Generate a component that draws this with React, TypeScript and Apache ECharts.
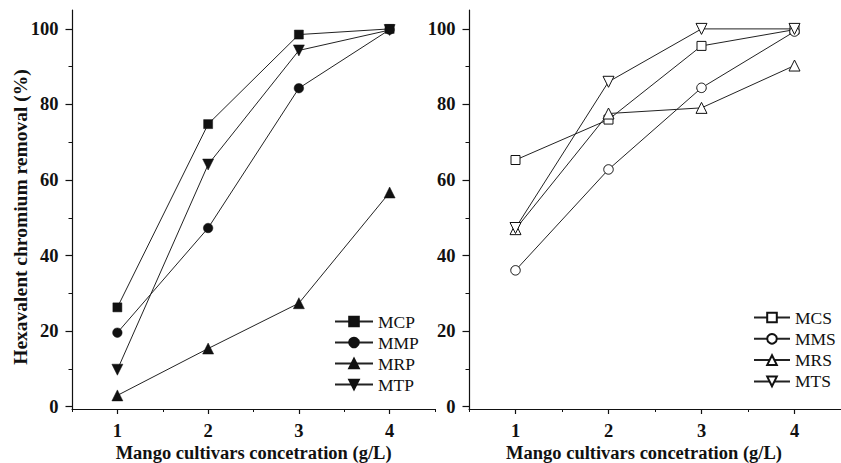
import React, { useEffect, useRef } from "react";
import * as echarts from "echarts";

const concentrations = [1, 2, 3, 4];
const xLabelValues = [1, 2, 3, 4];
const xMinorValues = [0.5, 1.5, 2.5, 3.5, 4.5];
const yLabelValues = [0, 20, 40, 60, 80, 100];
const yMinorValues = [10, 30, 50, 70, 90];

const leftNames = ["MCP", "MMP", "MRP", "MTP"];
const mcp = [26.3, 74.8, 98.5, 100];
const mmp = [19.6, 47.3, 84.3, 99.8];
const mrp = [3.0, 15.4, 27.4, 56.7];
const mtp = [9.8, 64.1, 94.3, 99.7];

const rightNames = ["MCS", "MMS", "MRS", "MTS"];
const mcs = [65.3, 76.0, 95.5, 99.8];
const mms = [36.1, 62.8, 84.4, 99.3];
const mrs = [47.0, 77.6, 79.1, 90.3];
const mts = [47.3, 86.0, 100, 100];

const xTitle = "Mango cultivars concetration (g/L)";
const yTitle = "Hexavalent chromium removal (%)";

const FONT = "'Liberation Serif', 'Times New Roman', serif";
const INK = "#111";

const symbols = ["rect", "circle", "triangle", "triangle"];
const rotations = [0, 0, 0, 180];
const sizes = [9, 9.5, 11, 11];

function pairs(vals: number[]) {
  return concentrations.map((c, i) => [c, vals[i]]);
}

export default function App() {
  const ref = useRef<HTMLDivElement>(null);
  useEffect(() => {
    if (!ref.current) return;
    const chart = echarts.init(ref.current, undefined, { renderer: "svg" });

    const mainX = (gridIndex: number) => ({
      type: "value",
      gridIndex,
      min: 0.5,
      max: 4.5,
      position: "bottom",
      axisLine: { show: true, onZero: false, lineStyle: { color: INK, width: 1.2 } },
      axisTick: { show: true, customValues: xLabelValues, length: 5, lineStyle: { color: INK, width: 1.2 } },
      axisLabel: {
        show: true,
        customValues: xLabelValues,
        margin: 12,
        color: INK,
        fontFamily: FONT,
        fontWeight: "bold",
        fontSize: 18.5,
      },
      splitLine: { show: false },
    });
    const minorX = (gridIndex: number) => ({
      type: "value",
      gridIndex,
      min: 0.5,
      max: 4.5,
      position: "bottom",
      axisLine: { show: false, onZero: false },
      axisTick: { show: true, customValues: xMinorValues, length: 3, lineStyle: { color: INK, width: 1 } },
      axisLabel: { show: false },
      splitLine: { show: false },
    });
    const mainY = (gridIndex: number) => ({
      type: "value",
      gridIndex,
      min: -0.6,
      max: 105,
      position: "left",
      axisLine: { show: true, onZero: false, lineStyle: { color: INK, width: 1.2 } },
      axisTick: { show: true, customValues: yLabelValues, length: 6.5, lineStyle: { color: INK, width: 1.2 } },
      axisLabel: {
        show: true,
        customValues: yLabelValues,
        margin: 13.5,
        color: INK,
        fontFamily: FONT,
        fontWeight: "bold",
        fontSize: 18.5,
      },
      splitLine: { show: false },
    });
    const minorY = (gridIndex: number) => ({
      type: "value",
      gridIndex,
      min: -0.6,
      max: 105,
      position: "left",
      axisLine: { show: false, onZero: false },
      axisTick: { show: true, customValues: yMinorValues, length: 3.5, lineStyle: { color: INK, width: 1 } },
      axisLabel: { show: false },
      splitLine: { show: false },
    });

    const makeSeries = (names: string[], data: number[][], axisIdx: number, filled: boolean) =>
      names.map((name, i) => ({
        name,
        type: "line",
        xAxisIndex: axisIdx,
        yAxisIndex: axisIdx,
        data: pairs(data[i]),
        symbol: symbols[i],
        symbolRotate: rotations[i],
        symbolSize: sizes[i],
        showAllSymbol: true,
        lineStyle: { color: "#222", width: 1 },
        itemStyle: filled
          ? { color: INK, borderColor: INK, borderWidth: 0.5 }
          : { color: "#fff", borderColor: INK, borderWidth: 1 },
        emphasis: { disabled: true },
        z: 3,
      }));

    const legendBase = {
      orient: "vertical",
      padding: 0,
      itemHeight: 12,
      textStyle: { color: INK, fontFamily: FONT, fontSize: 17.5, fontWeight: "normal" },
      selectedMode: false,
    };

    const option: any = {
      animation: false,
      backgroundColor: "#fff",
      grid: [
        { left: 72, right: 406, top: 10, bottom: 54, containLabel: false },
        { left: 469, right: 0, top: 10, bottom: 54, containLabel: false },
      ],
      xAxis: [mainX(0), mainX(1), minorX(0), minorX(1)],
      yAxis: [mainY(0), mainY(1), minorY(0), minorY(1)],
      legend: [
        { ...legendBase, data: leftNames, left: 334, top: 312.5, itemWidth: 38, itemGap: 3 },
        { ...legendBase, data: rightNames, left: 753, top: 308.5, itemWidth: 36, itemGap: 3.3 },
      ],
      series: [
        ...makeSeries(leftNames, [mcp, mmp, mrp, mtp], 0, true),
        ...makeSeries(rightNames, [mcs, mms, mrs, mts], 1, false),
      ],
      graphic: [
        {
          type: "text",
          x: 20,
          y: 217,
          rotation: Math.PI / 2,
          style: {
            text: yTitle,
            fontFamily: FONT,
            fontWeight: "bold",
            fontSize: 19.5,
            fill: INK,
            align: "center",
            verticalAlign: "middle",
          },
        },
        {
          type: "text",
          x: 253.6,
          y: 452.7,
          style: {
            text: xTitle,
            fontFamily: FONT,
            fontWeight: "bold",
            fontSize: 18.5,
            fill: INK,
            align: "center",
            verticalAlign: "middle",
          },
        },
        {
          type: "text",
          x: 644,
          y: 452.7,
          style: {
            text: xTitle,
            fontFamily: FONT,
            fontWeight: "bold",
            fontSize: 18.5,
            fill: INK,
            align: "center",
            verticalAlign: "middle",
          },
        },
      ],
    };

    chart.setOption(option);
    return () => chart.dispose();
  }, []);

  return (
    <div
      ref={ref}
      style={{ position: "fixed", left: 0, top: 0, width: 841, height: 463, background: "#fff" }}
    />
  );
}
